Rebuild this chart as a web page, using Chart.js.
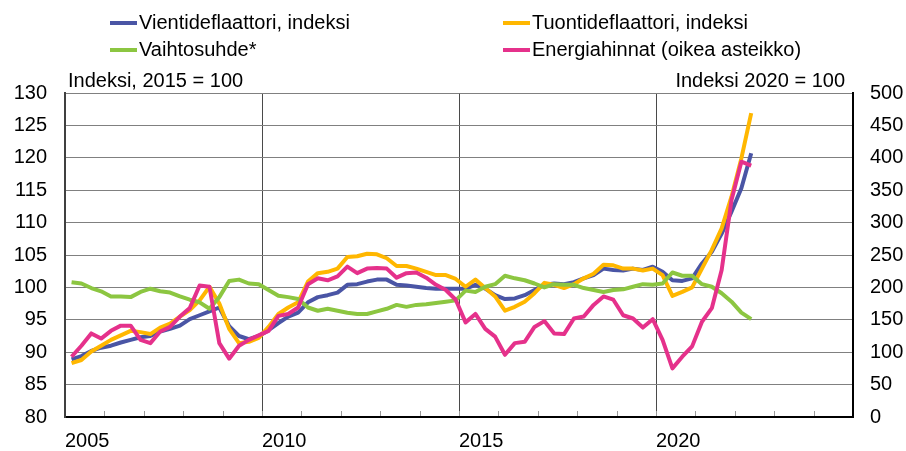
<!DOCTYPE html>
<html><head><meta charset="utf-8">
<script src="https://cdn.jsdelivr.net/npm/chart.js@4.4.1/dist/chart.umd.min.js"></script>
<style>html,body{margin:0;padding:0;background:#fff;}#wrap{width:906px;height:451px;position:relative;}</style>
</head><body><div id="wrap"><canvas id="c" width="906" height="451"></canvas></div>
<script>
const quarters = [
 '2005Q1','2005Q2','2005Q3','2005Q4','2006Q1','2006Q2','2006Q3','2006Q4','2007Q1','2007Q2',
 '2007Q3','2007Q4','2008Q1','2008Q2','2008Q3','2008Q4','2009Q1','2009Q2','2009Q3','2009Q4',
 '2010Q1','2010Q2','2010Q3','2010Q4','2011Q1','2011Q2','2011Q3','2011Q4','2012Q1','2012Q2',
 '2012Q3','2012Q4','2013Q1','2013Q2','2013Q3','2013Q4','2014Q1','2014Q2','2014Q3','2014Q4',
 '2015Q1','2015Q2','2015Q3','2015Q4','2016Q1','2016Q2','2016Q3','2016Q4','2017Q1','2017Q2',
 '2017Q3','2017Q4','2018Q1','2018Q2','2018Q3','2018Q4','2019Q1','2019Q2','2019Q3','2019Q4',
 '2020Q1','2020Q2','2020Q3','2020Q4','2021Q1','2021Q2','2021Q3','2021Q4','2022Q1','2022Q2'];

const vientideflaattori = [
 88.9, 89.4, 90.2, 90.7, 91.0, 91.5, 91.9, 92.3, 92.5, 93.2,
 93.6, 94.1, 95.1, 95.7, 96.3, 96.9, 94.0, 92.5, 92.0, 92.5,
 93.4, 94.5, 95.5, 96.1, 97.7, 98.5, 98.8, 99.2, 100.4, 100.5,
 100.9, 101.2, 101.2, 100.4, 100.3, 100.1, 99.9, 99.8, 99.8, 99.8,
 99.8, 100.4, 99.8, 98.8, 98.2, 98.3, 98.8, 99.6, 100.4, 100.6,
 100.5, 100.8, 101.4, 101.9, 102.9, 102.7, 102.6, 102.9, 102.7, 103.2,
 102.4, 101.1, 101.0, 101.4, 103.7, 105.5, 108.3, 111.7, 115.3, 120.7];

const tuontideflaattori = [
 88.3, 88.8, 90.1, 91.0, 91.9, 92.6, 93.3, 93.1, 92.8, 93.8,
 94.4, 95.5, 96.5, 98.0, 100.1, 97.5, 93.6, 91.4, 91.6, 92.2,
 93.9, 95.9, 96.9, 97.7, 100.9, 102.2, 102.4, 102.9, 104.7, 104.8,
 105.2, 105.1, 104.5, 103.3, 103.3, 102.9, 102.4, 101.9, 101.9, 101.3,
 100.1, 101.2, 99.9, 98.6, 96.4, 97.0, 97.8, 99.1, 100.7, 100.4,
 99.9, 100.5, 101.4, 102.1, 103.5, 103.4, 102.9, 102.9, 102.6, 102.9,
 101.9, 98.7, 99.3, 100.0, 102.9, 105.8, 109.1, 114.0, 119.9, 126.9];

const vaihtosuhde = [
 100.8, 100.6, 99.9, 99.4, 98.6, 98.6, 98.5, 99.3, 99.8, 99.4,
 99.2, 98.6, 98.1, 97.7, 96.7, 98.5, 101.0, 101.2, 100.6, 100.5,
 99.6, 98.7, 98.5, 98.2, 96.9, 96.4, 96.7, 96.4, 96.1, 95.9,
 95.9, 96.3, 96.7, 97.3, 97.0, 97.3, 97.4, 97.6, 97.8, 98.0,
 99.5, 99.3, 100.1, 100.5, 101.8, 101.4, 101.1, 100.6, 100.0, 100.5,
 100.4, 100.4, 99.9, 99.6, 99.3, 99.6, 99.7, 100.1, 100.5, 100.4,
 100.6, 102.3, 101.8, 101.8, 100.5, 100.1, 99.1, 97.8, 96.1, 95.1];

const energiahinnat = [
 93, 110, 129, 121, 133, 141, 141, 119, 114, 132,
 139, 155, 168, 203, 201, 114, 90, 110, 119, 126,
 133, 156, 159, 169, 205, 214, 211, 217, 232, 222,
 229, 230, 229, 215, 222, 223, 215, 204, 196, 181,
 146, 159, 136, 124, 96, 114, 116, 139, 148, 129,
 128, 152, 155, 173, 186, 181, 157, 152, 138, 151,
 119, 75, 93, 109, 147, 168, 227, 335, 394, 388];

const seriesLabels = ['Vientideflaattori, indeksi', 'Tuontideflaattori, indeksi', 'Vaihtosuhde*', 'Energiahinnat (oikea asteikko)'];
const seriesColors = ['#4a55a5', '#ffb700', '#8cc641', '#e5318b'];
const yearLabels = [2005, 2010, 2015, 2020];
const gridYears = [2010, 2015, 2020];
const leftTitle = 'Indeksi, 2015 = 100';
const rightTitle = 'Indeksi 2020 = 100';

const FONT = {family: '"Liberation Sans", Arial, sans-serif', size: 20};
const FONT_STR = '20px "Liberation Sans", Arial, sans-serif';

// position of a quarter on the year axis (plotted at the last month of the quarter)
function qToX(q) { const y = parseInt(q.slice(0, 4)); const n = parseInt(q.slice(5)); return y + (n * 3 - 1) / 12; }
function toPoints(arr) { return arr.map((v, i) => ({x: qToX(quarters[i]), y: v})); }

const overlay = {
  id: 'overlay',
  afterDraw(chart) {
    const ctx = chart.ctx, xs = chart.scales.x, a = chart.chartArea;
    ctx.save();
    ctx.strokeStyle = '#9a9a9a'; ctx.lineWidth = 1;
    xs.ticks.forEach(t => {
      const px = Math.round(xs.getPixelForValue(t.value)) + 0.5;
      if (px <= a.left + 1 || px >= a.right - 1) return;
      ctx.beginPath(); ctx.moveTo(px, a.bottom - 1); ctx.lineTo(px, a.bottom - 6); ctx.stroke();
    });
    ctx.font = FONT_STR; ctx.fillStyle = '#000'; ctx.textBaseline = 'middle';
    ctx.textAlign = 'left'; ctx.fillText(leftTitle, a.left + 3, 81);
    ctx.textAlign = 'right'; ctx.fillText(rightTitle, a.right - 8, 81);
    const cols = [110, 503], rows = [23, 50];
    ctx.textAlign = 'left';
    seriesLabels.forEach((lab, k) => {
      const x = cols[k % 2], y = rows[Math.floor(k / 2)];
      ctx.strokeStyle = seriesColors[k]; ctx.lineWidth = 4; ctx.lineCap = 'butt';
      ctx.beginPath(); ctx.moveTo(x, y); ctx.lineTo(x + 27, y); ctx.stroke();
      ctx.fillStyle = '#000'; ctx.fillText(lab, x + 29, y);
    });
    ctx.restore();
  }
};

const seriesData = [vientideflaattori, tuontideflaattori, vaihtosuhde, energiahinnat];
const axisIds = ['y', 'y', 'y', 'y2'];
const drawOrder = [3, 2, 1, 0];

new Chart(document.getElementById('c'), {
  type: 'line',
  data: {
    datasets: seriesData.map((arr, k) => ({
      label: seriesLabels[k], data: toPoints(arr), yAxisID: axisIds[k],
      borderColor: seriesColors[k], backgroundColor: seriesColors[k],
      borderWidth: 4, pointRadius: 0, tension: 0, fill: false,
      borderJoinStyle: 'round', order: drawOrder[k]
    }))
  },
  options: {
    responsive: false, animation: false, devicePixelRatio: 1,
    layout: {padding: {top: 93, left: 0, right: 0, bottom: 0}},
    plugins: {legend: {display: false}, tooltip: {enabled: false}, title: {display: false}},
    scales: {
      x: {
        type: 'linear', min: 2005, max: 2025,
        afterBuildTicks: s => { const t = []; for (let v = 2005; v <= 2025; v++) t.push({value: v}); s.ticks = t; },
        ticks: {autoSkip: false, maxRotation: 0, align: 'start', padding: 12, font: FONT, color: '#000',
          callback: v => yearLabels.includes(v) ? String(v) : ''},
        grid: {drawTicks: false, lineWidth: 1, color: c => (c.tick && gridYears.includes(c.tick.value)) ? '#4a4a4a' : 'rgba(0,0,0,0)'},
        border: {color: '#000', width: 2},
        afterFit: s => { s.height = 34; }
      },
      y: {
        position: 'left', min: 80, max: 130,
        ticks: {stepSize: 5, padding: 18, font: FONT, color: '#000'},
        grid: {drawTicks: false, color: '#808080', lineWidth: 1},
        border: {color: '#404040', width: 2},
        afterFit: s => { s.width = 65; }
      },
      y2: {
        position: 'right', min: 0, max: 500,
        ticks: {stepSize: 50, padding: 17, font: FONT, color: '#000'},
        grid: {drawOnChartArea: false, drawTicks: false},
        border: {color: '#000', width: 2},
        afterFit: s => { s.width = 53; }
      }
    }
  },
  plugins: [overlay]
});
</script></body></html>
